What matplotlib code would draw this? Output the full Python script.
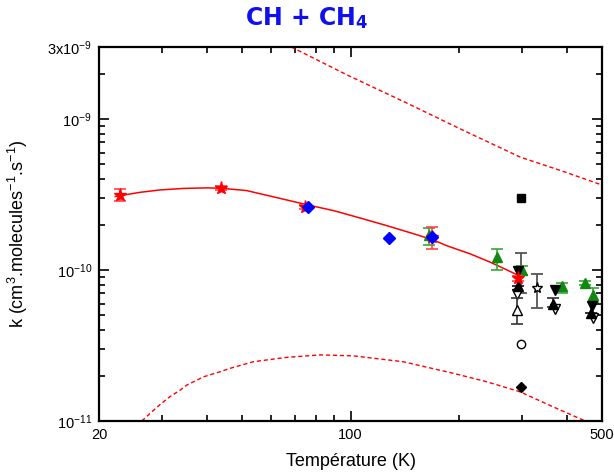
import numpy as np
import matplotlib
matplotlib.use('Agg')
import matplotlib.pyplot as plt
from matplotlib.ticker import FixedLocator, FixedFormatter, NullFormatter

plt.rcParams['font.family'] = ['Liberation Sans', 'DejaVu Sans']
plt.rcParams['mathtext.fontset'] = 'custom'
plt.rcParams['mathtext.rm'] = 'Liberation Sans'
plt.rcParams['mathtext.it'] = 'Liberation Sans:italic'
plt.rcParams['mathtext.bf'] = 'DejaVu Sans:bold'
plt.rcParams['axes.unicode_minus'] = False

# fit curve
fit_T = [22.2, 26, 29.5, 34.3, 40, 43.6, 51.4, 63, 76, 90, 108.6, 125, 149.6, 170, 185, 215, 244, 270, 296]
fit_k = [3.07e-10, 3.27e-10, 3.39e-10, 3.47e-10, 3.50e-10, 3.48e-10, 3.36e-10, 3.0e-10, 2.7e-10, 2.47e-10,
         2.18e-10, 1.98e-10, 1.74e-10, 1.58e-10, 1.45e-10, 1.28e-10, 1.13e-10, 1.01e-10, 0.91e-10]

# uncertainty envelope
up_T = [68.5, 97.8, 143, 202, 296, 390, 493, 510]
up_k = [3.0e-9, 1.96e-9, 1.28e-9, 8.6e-10, 5.6e-10, 4.5e-10, 3.7e-10, 3.6e-10]
lo_T = [26.3, 27.7, 29.5, 31.5, 33.6, 35.1, 39, 43.4, 46.2, 53.7, 66.5, 82.3, 101.9, 140, 193, 239, 296, 366, 449]
lo_k = [1.0e-11, 1.12e-11, 1.28e-11, 1.45e-11, 1.6e-11, 1.73e-11, 1.96e-11, 2.12e-11, 2.23e-11, 2.47e-11,
        2.64e-11, 2.74e-11, 2.70e-11, 2.47e-11, 2.07e-11, 1.82e-11, 1.56e-11, 1.24e-11, 1.0e-11]

# red stars with error bars
red_T = [22.9, 43.7, 74.7, 169, 293]
red_k = [3.14e-10, 3.48e-10, 2.63e-10, 1.65e-10, 0.88e-10]
red_lo = [2.88e-10, 3.38e-10, 2.55e-10, 1.38e-10, 0.85e-10]
red_hi = [3.42e-10, 3.58e-10, 2.71e-10, 1.93e-10, 0.91e-10]

# blue diamonds
blue_T = [76.3, 127.6, 169]
blue_k = [2.63e-10, 1.64e-10, 1.65e-10]

# green triangles with error bars
green_T = [165, 256, 300, 386, 449, 471]
green_k = [1.70e-10, 1.225e-10, 1.0e-10, 0.78e-10, 0.816e-10, 0.683e-10]
green_lo = [1.46e-10, 1.0e-10, 0.93e-10, 0.70e-10, 0.79e-10, 0.617e-10]
green_hi = [1.89e-10, 1.377e-10, 1.07e-10, 0.82e-10, 0.84e-10, 0.756e-10]

# black symbols
bdown_T = [292, 370, 469]
bdown_k = [0.985e-10, 0.737e-10, 0.577e-10]
bup_T = [293, 365, 465]
bup_k = [0.787e-10, 0.60e-10, 0.522e-10]
bup_lo = [0.787e-10, 0.57e-10, 0.522e-10]
bup_hi = [0.787e-10, 0.65e-10, 0.522e-10]
odown_T = [290, 370, 471]
odown_k = [0.69e-10, 0.549e-10, 0.479e-10]
oup_T = [290]
oup_k = [0.543e-10]
oup_lo = [0.437e-10]
oup_hi = [0.65e-10]
ostar_T = [329]
ostar_k = [0.757e-10]
ostar_lo = [0.557e-10]
ostar_hi = [0.937e-10]
gray_T = [298]
gray_k = [0.95e-10]
gray_lo = [0.70e-10]
gray_hi = [1.29e-10]
square_T, square_k = [297], [2.98e-10]
circle_T, circle_k = [297], [0.325e-10]
bdiam_T, bdiam_k = [297], [0.167e-10]


def err(k, lo, hi):
    k = np.array(k)
    return [k - np.array(lo), np.array(hi) - k]


fig = plt.figure(figsize=(6.14, 4.72), dpi=100)
ax = fig.add_axes([99 / 614, 51 / 472, 503 / 614, 374 / 472])

ax.plot(fit_T, fit_k, color='red', lw=1.1, zorder=2)
ax.plot(up_T, up_k, color='red', lw=1, ls=(0, (3, 2)), zorder=2)
ax.plot(lo_T, lo_k, color='red', lw=1, ls=(0, (3, 2)), zorder=2)

ax.errorbar(gray_T, gray_k, yerr=err(gray_k, gray_lo, gray_hi), fmt='none',
            ecolor='#555555', elinewidth=1.3, capsize=4, capthick=1.3, zorder=3)
ax.errorbar(green_T, green_k, yerr=err(green_k, green_lo, green_hi), fmt='^', ms=7,
            color='#118811', ecolor='#33aa33', elinewidth=1.2, capsize=4, capthick=1.2, zorder=4)
ax.errorbar(red_T, red_k, yerr=err(red_k, red_lo, red_hi), fmt='*', ms=9.5,
            color='red', ecolor='#ff4444', elinewidth=1.2, capsize=4, capthick=1.2, zorder=6)
ax.plot(blue_T, blue_k, 'D', color='blue', ms=6, zorder=7)
ax.plot(bdown_T, bdown_k, 'v', color='black', ms=7, zorder=5)
ax.errorbar(bup_T, bup_k, yerr=err(bup_k, bup_lo, bup_hi), fmt='^', ms=7,
            color='black', ecolor='#333333', elinewidth=1.2, capsize=4, capthick=1.2, zorder=5)
ax.plot(odown_T, odown_k, 'v', mfc='white', mec='black', ms=7, zorder=5)
ax.errorbar(oup_T, oup_k, yerr=err(oup_k, oup_lo, oup_hi), fmt='^', ms=7, mfc='white', mec='black',
            ecolor='#333333', elinewidth=1.2, capsize=4, capthick=1.2, zorder=5)
ax.errorbar(ostar_T, ostar_k, yerr=err(ostar_k, ostar_lo, ostar_hi), fmt='*', ms=8, mfc='white',
            mec='black', ecolor='#555555', elinewidth=1.3, capsize=4, capthick=1.3, zorder=5)
ax.plot(square_T, square_k, 's', color='black', ms=5.5, zorder=5)
ax.plot(circle_T, circle_k, 'o', mfc='white', mec='black', ms=6, zorder=5)
ax.plot(bdiam_T, bdiam_k, 'D', color='black', ms=5.5, zorder=5)

ax.set_xscale('log')
ax.set_yscale('log')
ax.set_xlim(20, 500)
ax.set_ylim(1e-11, 3e-9)

ax.xaxis.set_major_locator(FixedLocator([20, 100, 500]))
ax.xaxis.set_major_formatter(FixedFormatter(['20', '100', '500']))
ax.xaxis.set_minor_locator(FixedLocator([30, 40, 50, 60, 70, 80, 90, 200, 300, 400]))
ax.xaxis.set_minor_formatter(NullFormatter())

ax.yaxis.set_major_locator(FixedLocator([1e-11, 1e-10, 1e-9, 3e-9]))
ax.yaxis.set_major_formatter(FixedFormatter(['10$^{-11}$', '10$^{-10}$', '10$^{-9}$', '3x10$^{-9}$']))
minor_y = [m * 10.0 ** e for e in (-11, -10) for m in range(2, 10)] + [2e-9]
ax.yaxis.set_minor_locator(FixedLocator(minor_y))
ax.yaxis.set_minor_formatter(NullFormatter())

ax.tick_params(which='both', direction='in', top=True, right=True, width=1.2, labelsize=10.5)
ax.tick_params(which='major', length=7, pad=5)
ax.tick_params(which='minor', length=4)
for s in ax.spines.values():
    s.set_linewidth(1.6)

ax.set_xlabel('Température (K)', fontsize=13, labelpad=8)
ax.set_ylabel('k (cm$^3$.molecules$^{-1}$.s$^{-1}$)', fontsize=13, labelpad=12)

fig.text(0.5, 0.962, 'CH + CH$_\\mathbf{4}$', color='#1010ee', fontsize=17, fontweight='bold',
         family='DejaVu Sans', ha='center', va='center')

fig.savefig('out.png', dpi=100)
